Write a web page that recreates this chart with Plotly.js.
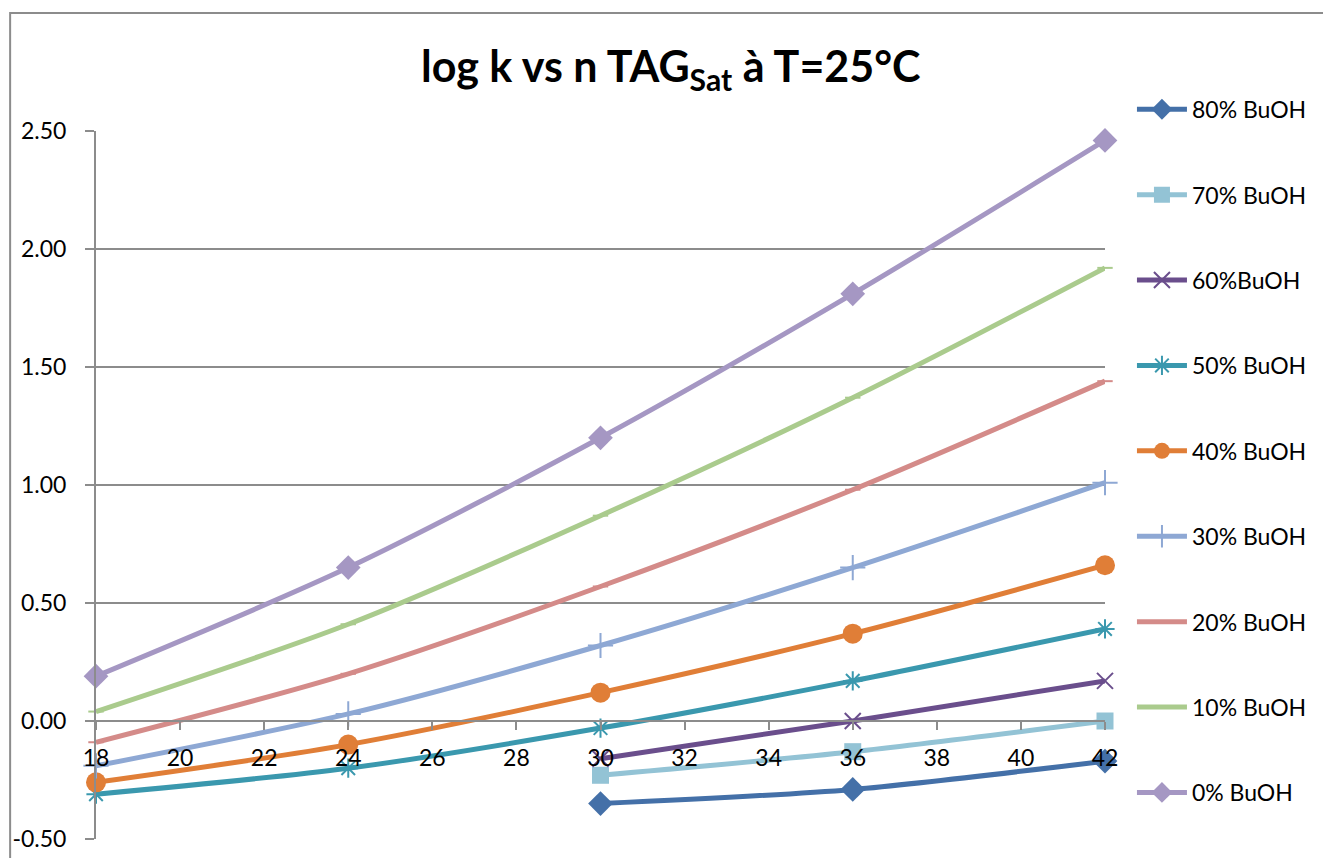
<!DOCTYPE html>
<html>
<head>
<meta charset="utf-8">
<script src="https://cdn.plot.ly/plotly-3.0.1.min.js"></script>
<style>
  html, body { margin: 0; padding: 0; background: #fff; }
  #chart { width: 1323px; height: 858px; }
</style>
</head>
<body>
<div id="chart"></div>
<script>
// ---- data ----
const nFull = [18, 24, 30, 36, 42];
const nShort = [30, 36, 42];

const seriesNames = ["80% BuOH", "70% BuOH", "60%BuOH", "50% BuOH", "40% BuOH",
                     "30% BuOH", "20% BuOH", "10% BuOH", "0% BuOH"];

const buoh80 = [-0.35, -0.29, -0.17];
const buoh70 = [-0.23, -0.13, 0.00];
const buoh60 = [-0.16, 0.00, 0.17];
const buoh50 = [-0.31, -0.20, -0.03, 0.17, 0.39];
const buoh40 = [-0.26, -0.10, 0.12, 0.37, 0.66];
const buoh30 = [-0.19, 0.03, 0.32, 0.65, 1.01];
const buoh20 = [-0.09, 0.20, 0.57, 0.98, 1.44];
const buoh10 = [0.04, 0.41, 0.87, 1.37, 1.92];
const buoh0  = [0.19, 0.65, 1.20, 1.81, 2.46];

const xTicks = [18, 20, 22, 24, 26, 28, 30, 32, 34, 36, 38, 40, 42];
const yTicks = [-0.5, 0, 0.5, 1.0, 1.5, 2.0, 2.5];

// ---- styles ----
const styles = [
  {x: nShort, y: buoh80, color: "#4470A8", symbol: "diamond", size: 19, open: false},
  {x: nShort, y: buoh70, color: "#93C3D5", symbol: "square", size: 17, open: false},
  {x: nShort, y: buoh60, color: "#6A4E8C", symbol: "x-thin-open", size: 16, open: true},
  {x: nFull,  y: buoh50, color: "#3A98AE", symbol: "asterisk-open", size: 16, open: true},
  {x: nFull,  y: buoh40, color: "#E07E37", symbol: "circle", size: 20, open: false},
  {x: nFull,  y: buoh30, color: "#8EA8D4", symbol: "cross-thin-open", size: 18, open: true},
  {x: nFull,  y: buoh20, color: "#D48B89", symbol: "line-ew-open", size: 11, open: true},
  {x: nFull,  y: buoh10, color: "#AACB8D", symbol: "line-ew-open", size: 11, open: true},
  {x: nFull,  y: buoh0,  color: "#A597C3", symbol: "diamond", size: 19, open: false}
];

const FONT = "Lato, 'Open Sans', 'Liberation Sans', sans-serif";

const traces = styles.map((s, i) => ({
  type: "scatter",
  mode: "lines+markers",
  name: seriesNames[i],
  legendgroup: "g" + i,
  x: s.x,
  y: s.y,
  cliponaxis: false,
  line: {color: s.color, width: 5, shape: "spline", smoothing: 0.8},
  marker: {
    color: s.color,
    symbol: s.symbol,
    size: s.size,
    line: {color: s.color, width: s.open ? 2 : 0}
  }
}));

const layout = {
  width: 1323,
  height: 858,
  paper_bgcolor: "#ffffff",
  plot_bgcolor: "#ffffff",
  margin: {l: 96, r: 217, t: 131, b: 19, pad: 0},
  font: {family: FONT, size: 23, color: "#000"},
  title: {
    text: "<b>log k vs n TAG<sub>Sat</sub> à T=25°C</b>",
    font: {family: FONT, size: 43, color: "#000"},
    x: 0.507, xref: "container", xanchor: "center",
    y: 0.922, yref: "container", yanchor: "middle"
  },
  showlegend: true,
  legend: {
    x: 1.0257, xanchor: "left",
    y: 1.061, yanchor: "top",
    tracegroupgap: 52.5,
    maxheight: 850,
    font: {family: FONT, size: 23, color: "#000"},
    bgcolor: "rgba(0,0,0,0)",
    traceorder: "grouped",
    itemwidth: 50
  },
  xaxis: {
    range: [18, 42],
    autorange: false,
    tickmode: "array",
    tickvals: xTicks,
    ticktext: xTicks.map(String),
    showgrid: false,
    zeroline: false,
    showline: true,
    linecolor: "#8c8c8c",
    linewidth: 2,
    ticks: "outside",
    ticklen: 8,
    tickwidth: 2,
    tickcolor: "#8c8c8c",
    ticklabelstandoff: 8,
    anchor: "free",
    position: 0.1667,
    tickfont: {family: FONT, size: 23, color: "#000"},
    fixedrange: true
  },
  yaxis: {
    range: [-0.5, 2.5],
    autorange: false,
    tickmode: "array",
    tickvals: yTicks,
    ticktext: yTicks.map(v => v.toFixed(2)),
    showgrid: true,
    gridcolor: "#8c8c8c",
    gridwidth: 2,
    zeroline: false,
    showline: true,
    linecolor: "#8c8c8c",
    linewidth: 2,
    ticks: "outside",
    ticklen: 9,
    tickwidth: 2,
    tickcolor: "#8c8c8c",
    ticklabelstandoff: 14,
    tickfont: {family: FONT, size: 23, color: "#000"},
    fixedrange: true
  },
  shapes: [
    {
      type: "rect", xref: "paper", yref: "paper",
      x0: -0.0851, x1: 1.25, y0: -0.06, y1: 1.1667,
      line: {color: "#8c8c8c", width: 2},
      fillcolor: "rgba(0,0,0,0)",
      layer: "below"
    }
  ]
};

Plotly.newPlot("chart", traces, layout, {displayModeBar: false, staticPlot: true});
</script>
</body>
</html>
